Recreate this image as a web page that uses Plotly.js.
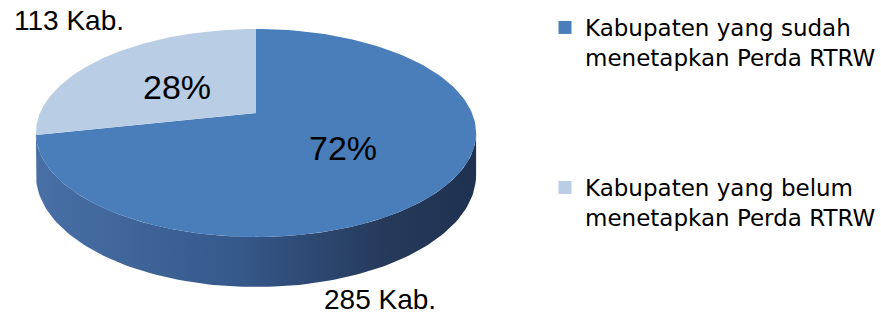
<!DOCTYPE html>
<html>
<head>
<meta charset="utf-8">
<script src="https://cdn.plot.ly/plotly-3.0.1.min.js"></script>
<style>html,body{margin:0;padding:0;background:#fff;}#chart{width:881px;height:315px;}</style>
</head>
<body>
<div id="chart"></div>
<script>
// ---- data ----
const categories = ['Kabupaten yang sudah menetapkan Perda RTRW', 'Kabupaten yang belum menetapkan Perda RTRW'];
const legendLabels = ['Kabupaten yang sudah<br>menetapkan Perda RTRW', 'Kabupaten yang belum<br>menetapkan Perda RTRW'];
const counts = [285, 113];
const countLabels = ['285 Kab.', '113 Kab.'];
const sliceColors = ['#4a7ebb', '#b9cde5'];
const sideColors = [[0, '#4870a6'], [0.45, '#36598b'], [0.8, '#25395a'], [1, '#1f3150']];

// ---- geometry of the tilted pie (in axis units = pixels) ----
const CX = 256, CY = 113, SX = 216, SY = 100.2, K = 0.192, DROP = 40.4;
function proj(theta, drop) {
  const X = Math.sin(theta), Z = Math.cos(theta), w = 1 + K * Z;
  return [CX + SX * X / w, CY - SY * Z / w + drop / w];
}
function arc(a0, a1, drop, n) {
  const xs = [], ys = [];
  for (let i = 0; i <= n; i++) {
    const t = a0 + (a1 - a0) * i / n;
    const p = proj(t, drop);
    xs.push(p[0]); ys.push(p[1]);
  }
  return [xs, ys];
}

const total = counts.reduce((a, b) => a + b, 0);
const traces = [];

// side wall (front, visible part)
const thR = Math.acos(-K), thL = 2 * Math.PI - thR;
const topArc = arc(thR, thL, 0, 120);
const botArc = arc(thL, thR, DROP, 120);
traces.push({
  type: 'scatter', mode: 'lines',
  x: topArc[0].concat(botArc[0]), y: topArc[1].concat(botArc[1]),
  fill: 'toself', line: {width: 0},
  fillgradient: {type: 'horizontal', colorscale: sideColors},
  hoverinfo: 'skip', showlegend: false
});

// top faces of slices
let start = 0;
counts.forEach((c, i) => {
  const a0 = start * 2 * Math.PI, a1 = (start + c / total) * 2 * Math.PI;
  const a = arc(a0, a1, 0, 150);
  traces.push({
    type: 'scatter', mode: 'lines',
    x: [CX].concat(a[0], [CX]), y: [CY].concat(a[1], [CY]),
    fill: 'toself', fillcolor: sliceColors[i], line: {width: 0},
    hoverinfo: 'skip', showlegend: false, name: categories[i]
  });
  start += c / total;
});

// legend entries
counts.forEach((c, i) => {
  traces.push({
    type: 'scatter', mode: 'markers', x: [null], y: [null],
    marker: {symbol: 'square', size: 13, color: sliceColors[i]},
    name: legendLabels[i], legend: i === 0 ? 'legend' : 'legend2', showlegend: true
  });
});

const pct = counts.map(c => Math.round(c / total * 100) + '%');
const annotations = [
  {x: 343, y: 148, text: pct[0], font: {size: 34}},
  {x: 177, y: 87, text: pct[1], font: {size: 34}},
  {x: 380, y: 299, text: countLabels[0], font: {size: 28}},
  {x: 69, y: 20, text: countLabels[1], font: {size: 28}}
].map(a => Object.assign({xref: 'x', yref: 'y', showarrow: false, xanchor: 'center', yanchor: 'middle'}, a, {font: Object.assign({family: 'Liberation Sans, Arial, sans-serif', color: '#000'}, a.font)}));

const legendBase = {
  xanchor: 'right', yanchor: 'top', bgcolor: 'rgba(0,0,0,0)', borderwidth: 0,
  font: {family: 'DejaVu Sans, sans-serif', size: 23, color: '#000'},
  valign: 'top', itemclick: false, itemdoubleclick: false
};

const layout = {
  width: 881, height: 315, autosize: false,
  margin: {l: 0, r: 0, t: 0, b: 0},
  paper_bgcolor: '#fff', plot_bgcolor: '#fff',
  xaxis: {range: [0, 881], visible: false, fixedrange: true},
  yaxis: {range: [315, 0], visible: false, fixedrange: true},
  showlegend: true,
  legend: Object.assign({x: 1, y: 1 - 6 / 315}, legendBase),
  legend2: Object.assign({x: 1, y: 1 - 166 / 315}, legendBase),
  annotations: annotations
};

Plotly.newPlot('chart', traces, layout, {displayModeBar: false, staticPlot: true});
</script>
</body>
</html>
